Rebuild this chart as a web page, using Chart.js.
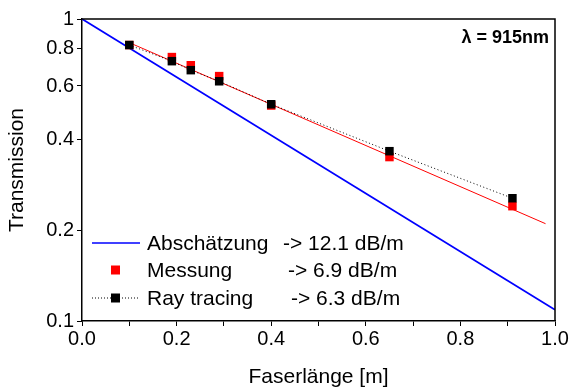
<!DOCTYPE html>
<html>
<head>
<meta charset="utf-8">
<script src="https://cdn.jsdelivr.net/npm/chart.js@4"></script>
<style>
  html, body { margin: 0; padding: 0; background: #fff; }
  #wrap { width: 574px; height: 390px; }
</style>
</head>
<body>
<div id="wrap"><canvas id="mycanvas" width="574" height="390"></canvas></div>
<script>
// values
var laenge = [0.1, 0.19, 0.23, 0.29, 0.4, 0.65, 0.91];
var messung = [0.82, 0.748, 0.703, 0.647, 0.517, 0.349, 0.240];
var rayTracing = [0.82, 0.725, 0.677, 0.622, 0.522, 0.365, 0.255];

var fitX = [0.1, 0.98];
var fitY = [0.835, 0.21];

var schaetzX = [0, 1];
var schaetzY = [1, 0.109];

var yTicks = [0.1, 0.2, 0.4, 0.6, 0.8, 1];
var legendLabels = ['Abschätzung', 'Messung', 'Ray tracing'];
var legendRates = ['-> 12.1 dB/m', '-> 6.9 dB/m', '-> 6.3 dB/m'];

function pts(xs, ys) {
  var out = [];
  for (var i in xs) {
    out.push({x: xs[i], y: ys[i]});
  }
  return out;
}

var font = "'Liberation Sans', Arial, sans-serif";

var boxAndLegend = {
  id: 'boxAndLegend',
  afterDraw: function(chart) {
    var ctx = chart.ctx;
    var a = chart.chartArea;
    ctx.save();
    ctx.strokeStyle = '#000';
    ctx.lineWidth = 1.5;
    ctx.beginPath();
    ctx.moveTo(a.left, a.top);
    ctx.lineTo(a.right, a.top);
    ctx.lineTo(a.right, a.bottom);
    ctx.stroke();

    // lambda label
    ctx.fillStyle = '#000';
    ctx.font = 'bold 18px ' + font;
    ctx.textAlign = 'right';
    ctx.textBaseline = 'middle';
    ctx.fillText('\u03BB = 915nm', 549, 38);

    // legend
    ctx.font = '21px ' + font;
    ctx.textAlign = 'left';
    var rows = [243, 270, 298];
    var arrowX = [283, 288, 291];
    for (var i = 0; i < 3; i++) {
      ctx.fillText(legendLabels[i], 147, rows[i] + 1);
      ctx.fillText(legendRates[i], arrowX[i], rows[i] + 1);
    }
    // swatches
    ctx.strokeStyle = '#0000ff';
    ctx.lineWidth = 1.5;
    ctx.beginPath();
    ctx.moveTo(92, rows[0]);
    ctx.lineTo(140, rows[0]);
    ctx.stroke();

    ctx.fillStyle = '#ff0000';
    ctx.fillRect(111, rows[1] - 4.5, 9, 9);

    ctx.strokeStyle = '#000';
    ctx.lineWidth = 1;
    ctx.setLineDash([1, 2]);
    ctx.beginPath();
    ctx.moveTo(92, rows[2]);
    ctx.lineTo(140, rows[2]);
    ctx.stroke();
    ctx.setLineDash([]);
    ctx.fillStyle = '#000';
    ctx.fillRect(111, rows[2] - 4.5, 9, 9);
    ctx.restore();
  }
};

var chartdata = {
  datasets: [
    {
      label: 'Ray tracing',
      data: pts(laenge, rayTracing),
      showLine: true,
      borderColor: '#000',
      borderWidth: 1,
      borderDash: [1, 2.5],
      pointStyle: 'rect',
      pointRadius: 6,
      pointBackgroundColor: '#000',
      pointBorderWidth: 0,
      order: 0
    },
    {
      label: 'Messung',
      data: pts(laenge, messung),
      showLine: false,
      pointStyle: 'rect',
      pointRadius: 6,
      pointBackgroundColor: '#ff0000',
      pointBorderWidth: 0,
      order: 1
    },
    {
      label: 'Fit',
      data: pts(fitX, fitY),
      showLine: true,
      borderColor: '#ff0000',
      borderWidth: 1,
      pointRadius: 0,
      order: 2
    },
    {
      label: 'Abschätzung',
      data: pts(schaetzX, schaetzY),
      showLine: true,
      borderColor: '#0000ff',
      borderWidth: 1.8,
      pointRadius: 0,
      order: 3
    }
  ]
};

var ctx = document.getElementById('mycanvas');

var LineGraph = new Chart(ctx, {
  type: 'scatter',
  data: chartdata,
  plugins: [boxAndLegend],
  options: {
    responsive: false,
    animation: false,
    layout: { padding: { top: 19, right: 19, left: 5, bottom: 0 } },
    plugins: {
      legend: { display: false },
      tooltip: { enabled: false }
    },
    scales: {
      x: {
        type: 'linear',
        min: 0,
        max: 1,
        afterFit: function(s) { s.height = 69; },
        border: { display: true, color: '#000', width: 1.5 },
        grid: { display: true, drawOnChartArea: false, drawTicks: true, tickLength: 5, color: '#000', tickWidth: 1 },
        ticks: {
          stepSize: 0.1,
          color: '#000',
          padding: 1,
          maxRotation: 0,
          autoSkip: false,
          font: { family: font, size: 20 },
          callback: function(v) {
            var n = Math.round(v * 10);
            return n % 2 === 0 ? (n / 10).toFixed(1) : '';
          }
        },
        title: {
          display: true,
          text: 'Faserlänge [m]',
          color: '#000',
          font: { family: font, size: 21 },
          padding: { top: 1, bottom: 0 }
        }
      },
      y: {
        type: 'logarithmic',
        min: 0.1,
        max: 1,
        afterFit: function(s) { s.width = 77; },
        afterBuildTicks: function(s) {
          s.ticks = yTicks.map(function(v) { return {value: v}; });
        },
        border: { display: true, color: '#000', width: 1.5 },
        grid: { display: true, drawOnChartArea: false, drawTicks: true, tickLength: 5, color: '#000', tickWidth: 1 },
        ticks: {
          color: '#000',
          padding: 3,
          font: { family: font, size: 20 },
          callback: function(v) { return String(v); }
        },
        title: {
          display: true,
          text: 'Transmission',
          color: '#000',
          font: { family: font, size: 21 },
          padding: { top: 0, bottom: 4 }
        }
      }
    }
  }
});
</script>
</body>
</html>
